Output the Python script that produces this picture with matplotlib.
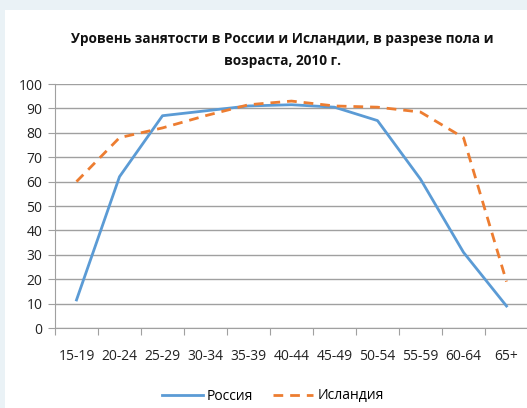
import matplotlib.pyplot as plt
from matplotlib.patches import Rectangle

categories = ["15-19", "20-24", "25-29", "30-34", "35-39", "40-44",
              "45-49", "50-54", "55-59", "60-64", "65+"]
russia = [11.5, 62, 87, 89, 91, 91.5, 90.5, 85, 61, 31, 9]
iceland = [60, 78, 82, 87, 91.5, 93, 91, 90.5, 88.5, 78, 19]
y_ticks = list(range(0, 101, 10))

plt.rcParams['font.family'] = ['Open Sans', 'DejaVu Sans']

fig = plt.figure(figsize=(5.27, 4.08), dpi=100)
fig.patch.set_facecolor('#EAF2F6')
fig.patches.append(Rectangle((5 / 527, 0), 1, 1 - 10 / 408, transform=fig.transFigure,
                             facecolor='white', edgecolor='none', zorder=-10))

ax = fig.add_axes([55 / 527, 1 - 328 / 408, 473 / 527, 244 / 408])
ax.set_facecolor('none')

x = list(range(len(categories)))
ax.plot(x, russia, color='#5B9BD5', lw=2, label='Россия', zorder=3)
ax.plot(x, iceland, color='#ED7D31', lw=2, ls=(0, (3.5, 2.5)), label='Исландия', zorder=3)

ax.set_xlim(-0.5, len(categories) - 0.5)
ax.set_ylim(0, 100)
ax.set_yticks(y_ticks)
ax.yaxis.grid(True, color='#A0A0A0', lw=1)
ax.set_axisbelow(True)

ax.set_xticks([i - 0.5 for i in range(len(categories) + 1)])
ax.set_xticklabels([])
ax.set_xticks(x, minor=True)
ax.set_xticklabels(categories, minor=True)
ax.tick_params(axis='x', which='minor', length=0, pad=15, labelsize=10, colors='#222222')
ax.tick_params(axis='x', which='major', length=5, color='#A0A0A0')
ax.tick_params(axis='y', length=5, color='#A0A0A0', labelsize=10, labelcolor='#222222', pad=4)

for s in ['top', 'right']:
    ax.spines[s].set_visible(False)
for s in ['left', 'bottom']:
    ax.spines[s].set_color('#A0A0A0')

fig.text(282 / 527, 1 - 50 / 408, "Уровень занятости в России и Исландии, в разрезе пола и\nвозраста, 2010 г.",
         ha='center', va='center', fontsize=9.8, fontweight='bold', linespacing=1.75, color='#111111')

fig.legend(loc='center', bbox_to_anchor=(273 / 527, 1 - 396 / 408), ncol=2, frameon=False,
           fontsize=10, handlelength=2.9, handletextpad=0.3, columnspacing=1.4)

fig.savefig('out.png', dpi=100, facecolor=fig.get_facecolor())
